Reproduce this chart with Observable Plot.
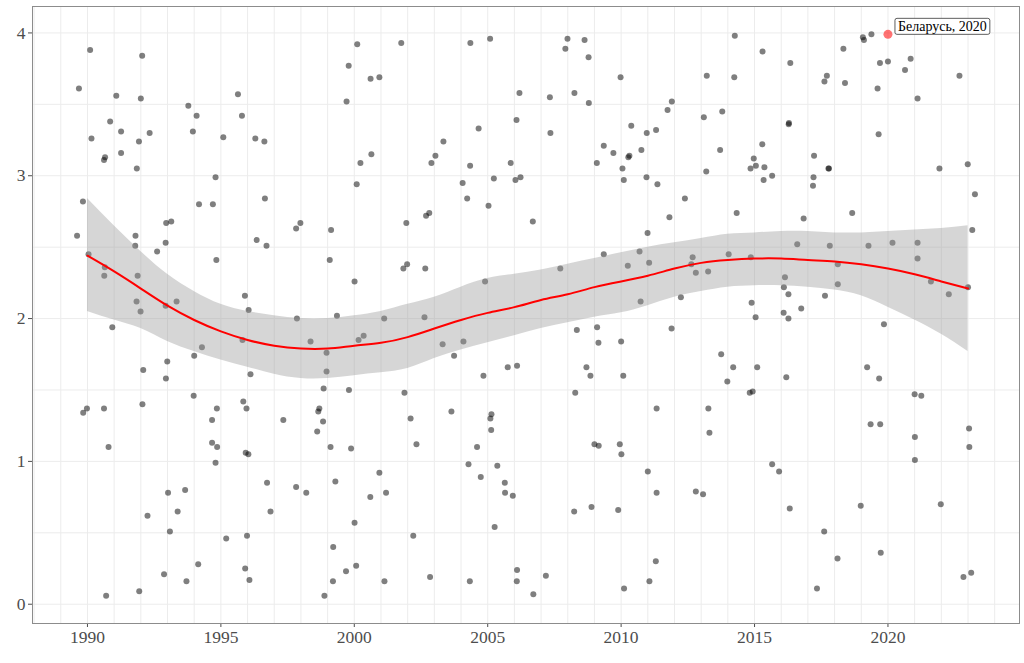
<!DOCTYPE html>
<html><head><meta charset="utf-8">
<script src="https://cdn.jsdelivr.net/npm/d3@7"></script>
<script src="https://cdn.jsdelivr.net/npm/@observablehq/plot@0.6"></script>
<style>body{margin:0;background:#fff;}</style>
</head><body><div id="chart"></div>
<script>
// Scatter points (jittered year, value)
const years = [
1990.10,1992.05,1989.68,1991.08,1992.00,1993.78,1994.09,1990.85,1991.26,1992.33,
1993.95,1990.15,1995.09,1991.93,1991.26,1990.66,1990.62,1991.85,1994.80,1989.83,
1994.18,1994.70,1992.95,1993.14,1989.61,1991.80,1991.79,1992.93,1992.61,1994.83,
1990.04,1990.65,1990.63,1991.88,1991.84,1991.99,1992.93,1993.34,
1990.93,1994.29,1994.00,1992.99,1992.09,1992.94,1993.98,1992.06,1989.98,1989.84,1990.62,1994.85,1994.67,1990.79,1994.67,1994.86,1994.80,1993.02,1993.66,1992.25,1993.38,1993.09,1995.20,1994.15,1992.87,1993.71,1991.94,1990.70,
1995.64,1995.79,1996.29,1996.63,2000.11,2001.76,1999.79,2000.61,2000.94,1999.71,2000.64,2000.23,2002.89,2003.04,2000.09,1996.65,1997.82,1997.98,1999.13,2001.95,2002.69,2002.81,1996.34,1996.71,1999.08,2001.84,2001.98,2002.66,2000.01,1995.90,1996.04,1997.85,1999.35,2001.12,2002.63,
1995.81,1998.36,2000.16,2000.35,1998.96,1998.96,1996.11,1998.85,1999.80,2001.88,1995.84,1995.96,1998.69,1998.65,1997.34,1998.83,2002.11,1998.61,2002.33,1999.11,1999.88,1995.93,1996.03,2000.94,1996.73,1999.29,1997.82,1998.20,2001.19,2000.60,1996.86,2000.01,1995.98,2002.21,1999.21,1995.91,1996.07,1999.69,2000.07,1999.20,2001.13,2002.84,1998.88,
2003.34,2004.35,2005.09,2004.66,2004.34,2004.06,2004.23,2005.03,2005.23,2005.86,2006.04,2006.23,2006.08,2006.19,2007.33,2007.35,2006.69,2004.90,2007.72,2007.91,2007.99,2008.63,2008.78,2008.25,2008.79,2009.98,2010.38,2009.35,2009.71,2009.09,2010.27,2010.31,2010.05,2010.10,2009.35,2010.25,
2003.31,2004.09,2003.74,2008.34,2009.10,2009.15,2010.00,2005.75,2006.10,2004.84,2008.70,2008.85,2010.08,2008.28,2003.64,2005.14,2005.10,2005.13,2004.60,2009.00,2009.16,2009.95,2010.01,2004.28,2005.36,2004.74,2005.64,2005.65,2005.94,2008.24,2008.89,2009.89,2005.26,2006.10,2006.09,2007.18,2004.33,2006.71,2010.11,
2014.26,2015.30,2016.34,2013.21,2014.24,2017.71,2017.62,2011.90,2011.74,2013.10,2013.79,2016.28,2016.29,2010.96,2011.31,2010.76,2013.71,2015.29,2014.97,2013.19,2014.85,2015.05,2015.37,2015.34,2015.66,2017.23,2017.77,2017.79,2017.21,2017.19,2010.95,2011.36,2012.39,2014.33,2011.81,2016.84,2010.99,2010.69,2011.05,2012.68,2012.63,2012.80,2013.26,2014.03,2014.86,2016.60,2017.82,2016.14,2016.10,2016.27,2017.64,2012.24,2010.73,2014.89,2015.04,2016.09,2016.27,2016.75,
2011.89,2013.75,2014.20,2015.10,2013.98,2016.19,2014.82,2014.93,2011.33,2013.27,2013.31,2011.00,2015.66,2015.92,2011.33,2012.80,2013.07,2016.32,2017.61,2011.30,2011.06,2017.34,
2019.06,2019.10,2019.38,2018.33,2019.70,2020.00,2020.85,2020.64,2022.68,2018.39,2019.61,2021.11,2019.65,2021.93,2022.99,2023.26,2018.66,2023.16,2019.27,2020.17,2021.11,2021.11,2018.12,2018.12,2021.61,2022.28,2023.00,
2019.85,2019.22,2019.67,2021.00,2021.25,2019.35,2019.71,2023.04,2021.01,2023.05,2021.01,2018.98,2021.98,2018.11,2019.73,2022.83,2023.12
];
const values = [
3.88,3.84,3.61,3.56,3.54,3.49,3.42,3.38,3.31,3.30,
3.31,3.26,3.27,3.24,3.16,3.13,3.11,3.05,2.99,2.82,
2.80,2.80,2.67,2.68,2.58,2.58,2.51,2.53,2.47,2.41,
2.45,2.36,2.30,2.30,2.12,2.05,2.09,2.12,
1.94,1.80,1.74,1.70,1.64,1.58,1.46,1.40,1.37,1.34,1.37,1.37,1.29,1.10,1.13,1.10,0.99,0.78,0.80,0.62,0.65,0.51,0.46,0.28,0.21,0.16,0.09,0.06,
3.57,3.42,3.26,3.24,3.92,3.93,3.77,3.68,3.69,3.52,3.15,3.09,3.09,3.14,2.94,2.84,2.63,2.67,2.62,2.67,2.72,2.74,2.55,2.51,2.41,2.35,2.38,2.35,2.26,2.16,2.06,2.00,2.02,2.00,2.01,
1.85,1.84,1.85,1.88,1.76,1.63,1.61,1.51,1.50,1.48,1.42,1.37,1.37,1.35,1.29,1.28,1.30,1.21,1.12,1.10,1.09,1.06,1.05,0.92,0.85,0.86,0.82,0.78,0.78,0.75,0.65,0.57,0.48,0.48,0.40,0.25,0.17,0.23,0.27,0.16,0.16,0.19,0.06,
3.24,3.93,3.96,3.33,3.07,2.95,2.84,2.79,2.98,3.09,2.97,2.99,3.39,3.58,3.55,3.30,2.68,2.26,2.35,3.89,3.96,3.95,3.83,3.58,3.51,3.69,3.35,3.21,3.16,3.09,3.13,3.14,3.05,2.97,2.45,2.37,
1.82,1.84,1.74,1.92,1.94,1.83,1.84,1.66,1.67,1.60,1.66,1.60,1.60,1.48,1.35,1.33,1.30,1.22,1.10,1.12,1.11,1.12,1.05,0.98,0.97,0.89,0.85,0.78,0.76,0.65,0.68,0.66,0.54,0.24,0.16,0.20,0.16,0.07,0.11,
3.98,3.87,3.79,3.70,3.69,3.70,3.66,3.52,3.46,3.41,3.45,3.36,3.37,3.30,3.32,3.18,3.18,3.22,3.12,3.03,3.05,3.07,3.06,2.97,3.00,3.14,3.05,3.05,2.99,2.93,2.99,2.94,2.84,2.74,2.71,2.70,2.60,2.47,2.39,2.43,2.38,2.32,2.33,2.45,2.43,2.52,2.51,2.29,2.22,2.17,2.16,2.15,2.12,2.11,2.01,2.04,2.00,2.07,
1.93,1.75,1.66,1.66,1.56,1.59,1.48,1.49,1.37,1.37,1.20,0.93,0.98,0.93,0.78,0.79,0.77,0.67,0.51,0.30,0.16,0.11,
3.97,3.95,3.99,3.89,3.79,3.80,3.82,3.74,3.70,3.65,3.61,3.54,3.29,3.05,3.08,2.87,2.74,2.62,2.51,2.53,2.53,2.42,2.38,2.24,2.26,2.17,2.22,
1.96,1.66,1.58,1.47,1.46,1.26,1.26,1.23,1.17,1.10,1.01,0.69,0.70,0.32,0.36,0.19,0.22
];

// Smoothed fit and confidence band
const smoothYears = [1990,1991,1992,1993,1994,1995,1996,1997,1998,1999,2000,2001,2002,2003,2004,2005,2006,2007,2008,2009,2010,2011,2012,2013,2014,2015,2016,2017,2018,2019,2020,2021,2022,2023];
const smoothFit   = [2.44,2.33,2.21,2.09,1.99,1.91,1.85,1.81,1.79,1.79,1.81,1.83,1.87,1.93,1.99,2.04,2.08,2.13,2.17,2.22,2.26,2.30,2.35,2.39,2.41,2.42,2.42,2.41,2.40,2.38,2.35,2.31,2.26,2.21];
const smoothUpper = [2.84,2.65,2.47,2.31,2.19,2.10,2.05,2.02,2.00,2.00,2.02,2.05,2.10,2.15,2.22,2.28,2.31,2.34,2.38,2.42,2.46,2.50,2.53,2.56,2.59,2.60,2.61,2.61,2.60,2.60,2.61,2.62,2.63,2.65];
const smoothLower = [2.05,1.99,1.93,1.84,1.77,1.71,1.66,1.61,1.58,1.58,1.60,1.62,1.65,1.72,1.78,1.83,1.88,1.93,1.97,2.01,2.04,2.09,2.15,2.19,2.22,2.23,2.23,2.22,2.20,2.16,2.08,1.99,1.89,1.77];

// Highlighted point
const highlightLabel = ["Беларусь, 2020"];
const highlightYear = [2020];
const highlightValue = [3.99];

// Ticks and grid
const xTicks = [1990,1995,2000,2005,2010,2015,2020];
const yTicks = [0,1,2,3,4];
const xGrid = [1988,1989,1990,1991,1992,1993,1994,1995,1996,1997,1998,1999,2000,2001,2002,2003,2004,2005,2006,2007,2008,2009,2010,2011,2012,2013,2014,2015,2016,2017,2018,2019,2020,2021,2022,2023,2024];
const yGrid = [0,0.5,1,1.5,2,2.5,3,3.5,4];

const points = years.map((x, i) => ({year: x, value: values[i]}));
const smooth = smoothYears.map((x, i) => ({year: x, fit: smoothFit[i], upper: smoothUpper[i], lower: smoothLower[i]}));
const highlight = highlightYear.map((x, i) => ({year: x, value: highlightValue[i], label: highlightLabel[i]}));

const chart = Plot.plot({
  width: 1024, height: 663,
  marginLeft: 32, marginRight: 5, marginTop: 6, marginBottom: 40,
  style: {fontFamily: "'Liberation Serif', 'Times New Roman', serif", background: "#fff", color: "#4d4d4d"},
  x: {domain: [1987.94, 2024.93], label: null},
  y: {domain: [-0.135, 4.185], label: null},
  marks: [
    Plot.gridX(xGrid, {stroke: "#ececec", strokeOpacity: 1}),
    Plot.gridY(yGrid, {stroke: "#ececec", strokeOpacity: 1}),
    Plot.dot(points, {x: "year", y: "value", r: 3, fill: "#000", fillOpacity: 0.5}),
    Plot.areaY(smooth, {x: "year", y1: "lower", y2: "upper", fill: "#999999", fillOpacity: 0.4, curve: "natural"}),
    Plot.lineY(smooth, {x: "year", y: "fit", stroke: "#ff0000", strokeWidth: 2, curve: "natural"}),
    Plot.dot(highlight, {x: "year", y: "value", r: 4.5, fill: "#ff0000", fillOpacity: 0.55}),
    Plot.text(highlight, {x: "year", y: "value", text: "label", textAnchor: "start", dx: 10, dy: -8, fontSize: 14, fill: "#000"}),
    Plot.axisX(xTicks, {tickSize: 4, tickPadding: 3, fontSize: 17.5, tickFormat: d => String(d), label: null}),
    Plot.axisY(yTicks, {tickSize: 4, tickPadding: 3, fontSize: 17.5, tickFormat: d => String(d), label: null}),
    Plot.frame({stroke: "#8c8c8c"})
  ]
});
document.getElementById("chart").append(chart);

// Label box behind the highlight text
const t = chart.querySelector('g[aria-label="text"] text');
if (t) {
  const bb = t.getBBox();
  const rect = document.createElementNS("http://www.w3.org/2000/svg", "rect");
  rect.setAttribute("x", bb.x - 3);
  rect.setAttribute("y", bb.y - 0.5);
  rect.setAttribute("width", bb.width + 6);
  rect.setAttribute("height", bb.height + 1);
  rect.setAttribute("rx", 2);
  rect.setAttribute("fill", "#fff");
  rect.setAttribute("stroke", "#333");
  rect.setAttribute("stroke-width", 0.8);
  if (t.getAttribute("transform")) rect.setAttribute("transform", t.getAttribute("transform"));
  t.parentNode.insertBefore(rect, t);
}
</script>
</body></html>
